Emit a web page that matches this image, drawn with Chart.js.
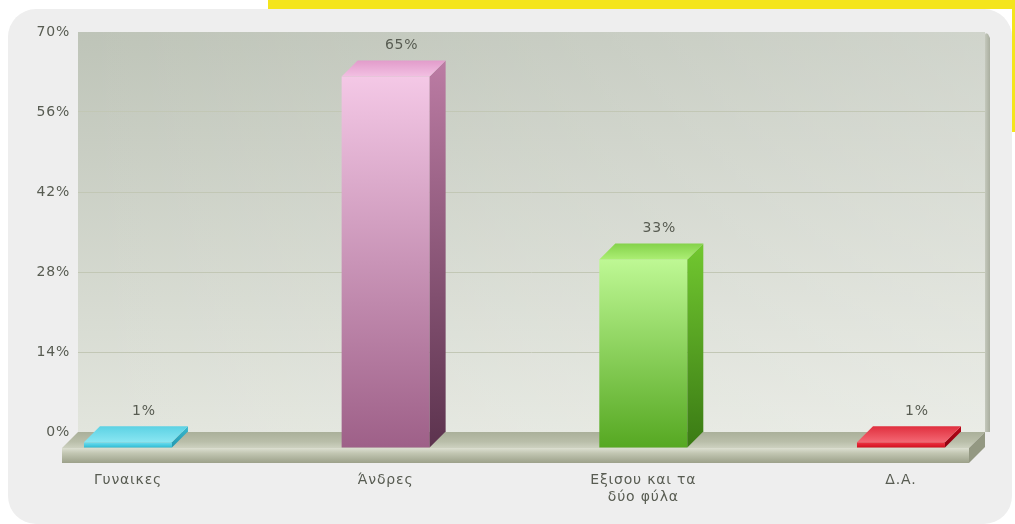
<!DOCTYPE html>
<html>
<head>
<meta charset="utf-8">
<script src="https://cdn.jsdelivr.net/npm/chart.js@4"></script>
<style>
  html, body { margin: 0; padding: 0; background: #fff; }
  #wrap { position: relative; width: 1015px; height: 524px; overflow: hidden; }
  .yel { position: absolute; background: #f4e51c; }
  #panel { position: absolute; left: 8px; top: 9px; width: 1004px; height: 515px;
           background: #eeeeee; border-radius: 28px; }
  #c { position: absolute; left: 0; top: 0; }
</style>
</head>
<body>
<div id="wrap">
  <div class="yel" style="left:268px;top:0;width:747px;height:9px"></div>
  <div class="yel" style="left:1012px;top:0;width:3px;height:132px"></div>
  <div id="panel"></div>
  <canvas id="c" width="1015" height="524"></canvas>
</div>
<script>
/* =========================
   DATA
========================= */
const categories = ["Γυναικες", "Άνδρες", ["Εξισου και τα", "δύο φύλα"], "Δ.Α."];
const values = [1, 65, 33, 1];
const yTicks = [0, 14, 28, 42, 56, 70];

// colours per bar: front top / front bottom / side top / side bottom / top face back / top face front
const barColors = [
  ["#6edef0", "#30bcd4", "#3ab8ce", "#2398b0", "#5cd2e4", "#8ae6f2"],
  ["#f4c8e6", "#9e6088", "#bc7ca4", "#5c334e", "#e29ccb", "#f2c0e2"],
  ["#bef894", "#56a822", "#72c830", "#3a7a14", "#84d24a", "#acee74"],
  ["#f03444", "#d0101e", "#b80616", "#8c0010", "#e0303e", "#f46874"]
];

const DEPTH = 16;
const FONT = '14px "DejaVu Sans"';
const TEXT = "#585c52";

/* =========================
   3D PLUGIN
========================= */
const bars3d = {
  id: "bars3d",
  beforeDraw(chart) {
    const { ctx, chartArea: a } = chart;
    ctx.save();
    let g = ctx.createLinearGradient(0, a.top, 0, a.bottom);
    g.addColorStop(0, "#bec4b8");
    g.addColorStop(1, "#e2e5dd");
    ctx.fillStyle = g;
    ctx.fillRect(a.left, a.top, a.right - a.left, a.bottom - a.top);
    g = ctx.createLinearGradient(a.left, 0, a.right, 0);
    g.addColorStop(0, "rgba(255,255,255,0)");
    g.addColorStop(1, "rgba(255,255,255,0.28)");
    ctx.fillStyle = g;
    ctx.fillRect(a.left, a.top, a.right - a.left, a.bottom - a.top);
    ctx.restore();
    ctx.letterSpacing = "0.8px";
  },
  beforeDatasetsDraw(chart) {
    const { ctx, chartArea: a } = chart;
    const B = chart.scales.y.getPixelForValue(0);
    const L = a.left, R = a.right, D = DEPTH;
    ctx.save();

    // right wall
    let g = ctx.createLinearGradient(R, 0, R + 5, 0);
    g.addColorStop(0, "#c4c8bc");
    g.addColorStop(1, "#a9ae9f");
    ctx.fillStyle = g;
    ctx.beginPath();
    ctx.moveTo(R, a.top + 3);
    ctx.quadraticCurveTo(R, a.top, R + 3, a.top + 2);
    ctx.lineTo(R + 5, a.top + 6);
    ctx.lineTo(R + 5, B);
    ctx.lineTo(R, B);
    ctx.closePath();
    ctx.fill();

    // floor top face
    g = ctx.createLinearGradient(0, B, 0, B + D);
    g.addColorStop(0, "#aab09a");
    g.addColorStop(0.6, "#b9bea9");
    g.addColorStop(1, "#cdd1c0");
    ctx.fillStyle = g;
    ctx.beginPath();
    ctx.moveTo(L, B);
    ctx.lineTo(R, B);
    ctx.lineTo(R - D, B + D);
    ctx.lineTo(L - D, B + D);
    ctx.closePath();
    ctx.fill();

    // floor front face
    g = ctx.createLinearGradient(0, B + D, 0, B + D + 15);
    g.addColorStop(0, "#dcdfd1");
    g.addColorStop(0.35, "#c2c6b2");
    g.addColorStop(1, "#9ca18a");
    ctx.fillStyle = g;
    ctx.fillRect(L - D, B + D, R - L, 15);

    // floor right face
    ctx.fillStyle = "#939882";
    ctx.beginPath();
    ctx.moveTo(R - D, B + D);
    ctx.lineTo(R, B);
    ctx.lineTo(R, B + 15);
    ctx.lineTo(R - D, B + D + 15);
    ctx.closePath();
    ctx.fill();
    ctx.restore();
  },
  afterDatasetsDraw(chart) {
    const { ctx } = chart;
    const meta = chart.getDatasetMeta(0);
    const D = DEPTH;
    ctx.save();
    meta.data.forEach((bar, i) => {
      const { x, y, base, width } = bar.getProps(["x", "y", "base", "width"], true);
      const c = barColors[i];
      const fl = x - width / 2 - D, fr = x + width / 2 - D;
      const ft = y + D, fb = base + D;

      // front
      let g = ctx.createLinearGradient(0, ft, 0, fb);
      g.addColorStop(0, c[0]);
      g.addColorStop(1, c[1]);
      ctx.fillStyle = g;
      ctx.fillRect(fl, ft, fr - fl, fb - ft);

      // side
      g = ctx.createLinearGradient(0, y, 0, fb);
      g.addColorStop(0, c[2]);
      g.addColorStop(1, c[3]);
      ctx.fillStyle = g;
      ctx.beginPath();
      ctx.moveTo(fr, ft);
      ctx.lineTo(fr + D, y);
      ctx.lineTo(fr + D, base);
      ctx.lineTo(fr, fb);
      ctx.closePath();
      ctx.fill();

      // top
      g = ctx.createLinearGradient(0, y, 0, ft);
      g.addColorStop(0, c[4]);
      g.addColorStop(1, c[5]);
      ctx.fillStyle = g;
      ctx.beginPath();
      ctx.moveTo(fl, ft);
      ctx.lineTo(fl + D, y);
      ctx.lineTo(fr + D, y);
      ctx.lineTo(fr, ft);
      ctx.closePath();
      ctx.fill();

      // value label
      ctx.font = FONT;
      ctx.fillStyle = TEXT;
      ctx.textAlign = "center";
      ctx.textBaseline = "middle";
      ctx.fillText(values[i] + "%", x, y - 15);
    });
    ctx.restore();
  }
};

/* =========================
   CHART
========================= */
const ctx = document.getElementById("c").getContext("2d");

new Chart(ctx, {
  type: "bar",
  data: {
    datasets: [{
      data: values.map((v, i) => ({ x: i, y: v })),
      backgroundColor: "rgba(0,0,0,0)",
      borderWidth: 0,
      barThickness: 88
    }]
  },
  options: {
    responsive: false,
    animation: false,
    events: [],
    layout: { padding: { top: 32, right: 30, bottom: 0, left: 0 } },
    plugins: { legend: { display: false }, tooltip: { enabled: false } },
    scales: {
      x: {
        type: "linear",
        offset: false,
        min: -0.256,
        max: 3.264,
        afterBuildTicks: (s) => { s.ticks = categories.map((c, i) => ({ value: i })); },
        afterFit: (s) => { s.height = 92; },
        grid: { display: false, drawTicks: false, offset: false },
        border: { display: false },
        ticks: {
          padding: 40,
          labelOffset: -DEPTH,
          autoSkip: false,
          maxRotation: 0,
          color: TEXT,
          font: { family: "DejaVu Sans", size: 14, lineHeight: 1.2 },
          callback: (v) => categories[v]
        }
      },
      y: {
        min: 0,
        max: 70,
        afterBuildTicks: (s) => { s.ticks = yTicks.map(v => ({ value: v })); },
        afterFit: (s) => { s.width = 78; },
        grid: {
          drawTicks: false,
          color: (c) => (c.tick && c.tick.value === 70) ? "rgba(0,0,0,0)" : "#c2c7b5"
        },
        border: { display: false },
        ticks: {
          padding: 8,
          color: TEXT,
          font: { family: "DejaVu Sans", size: 14 },
          callback: (v) => v + "%"
        }
      }
    }
  },
  plugins: [bars3d]
});
</script>
</body>
</html>
